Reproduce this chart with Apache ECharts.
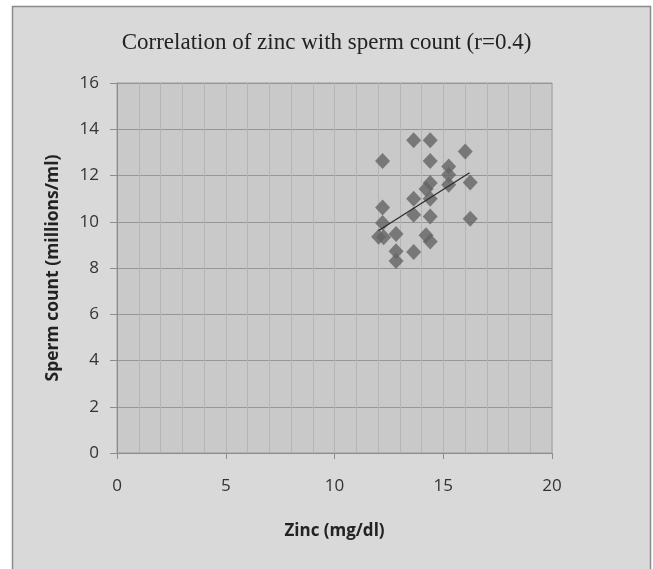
<!DOCTYPE html>
<html>
<head>
<meta charset="utf-8">
<script src="https://cdn.jsdelivr.net/npm/echarts@6/dist/echarts.min.js"></script>
<style>
  html, body { margin: 0; padding: 0; background: #fff; }
  #chart { width: 653px; height: 569px; }
</style>
</head>
<body>
<div id="chart"></div>
<script>
// values
const zinc = [13.64, 14.40, 12.21, 14.40, 16.01, 15.25, 15.25, 15.25, 16.24, 14.40,
  14.21, 14.40, 13.64, 13.64, 14.40, 16.24, 12.21, 12.21, 12.03, 12.26,
  12.83, 14.21, 14.40, 12.83, 12.83, 13.64];
const sperm = [13.52, 13.52, 12.63, 12.63, 13.04, 12.39, 12.03, 11.60, 11.70, 11.68,
  11.42, 11.00, 11.00, 10.30, 10.23, 10.13, 10.62, 9.95, 9.35, 9.33,
  9.47, 9.42, 9.15, 8.72, 8.30, 8.69];
// trend line ends (linear fit as drawn)
const trendX = [12.03, 16.21];
const trendY = [9.62, 12.12];

const points = zinc.map((x, i) => [x, sperm[i]]);
const trend = trendX.map((x, i) => [x, trendY[i]]);

const chart = echarts.init(document.getElementById("chart"));

chart.setOption({
  backgroundColor: "#ffffff",
  animation: false,
  graphic: [
    {
      type: "rect",
      z: -10,
      shape: { x: 12.5, y: 6.5, width: 638, height: 580 },
      style: { fill: "#d9d9d9", stroke: "#8a8a8a", lineWidth: 1.5 },
    },
  ],
  title: {
    text: "Correlation of zinc with sperm count (r=0.4)",
    left: "center",
    top: 26,
    textStyle: {
      fontFamily: "Liberation Serif",
      fontSize: 23,
      fontWeight: "normal",
      color: "#222",
    },
  },
  grid: {
    left: 117,
    right: 101,
    top: 83,
    bottom: 116,
    show: true,
    backgroundColor: "#c9c9c9",
    borderColor: "#9c9c9c",
    borderWidth: 1,
  },
  xAxis: {
    type: "value",
    min: 0,
    max: 20,
    interval: 5,
    name: "Zinc (mg/dl)",
    nameLocation: "middle",
    nameGap: 70,
    nameTextStyle: {
      fontFamily: "Open Sans",
      fontSize: 17,
      fontWeight: "bold",
      color: "#222",
    },
    axisLine: { lineStyle: { color: "#8c8c8c" } },
    axisTick: { show: true, length: 6, lineStyle: { color: "#8c8c8c" } },
    axisLabel: {
      margin: 25,
      fontFamily: "Open Sans",
      fontSize: 17,
      color: "#333",
    },
    splitLine: { show: true, lineStyle: { color: "#b5b5b5" } },
    minorTick: { show: false, splitNumber: 5 },
    minorSplitLine: { show: true, lineStyle: { color: "#b5b5b5" } },
  },
  yAxis: {
    type: "value",
    min: 0,
    max: 16,
    interval: 2,
    name: "Sperm count (millions/ml)",
    nameLocation: "middle",
    nameGap: 55,
    nameTextStyle: {
      fontFamily: "Open Sans",
      fontSize: 17.5,
      fontWeight: "bold",
      color: "#222",
    },
    axisLine: { show: true, lineStyle: { color: "#8c8c8c" } },
    axisTick: { show: true, length: 7, lineStyle: { color: "#8c8c8c" } },
    axisLabel: {
      margin: 18,
      fontFamily: "Open Sans",
      fontSize: 17,
      color: "#333",
    },
    splitLine: { show: true, lineStyle: { color: "#979797" } },
  },
  series: [
    {
      name: "Sperm count",
      type: "scatter",
      data: points,
      symbol: "diamond",
      symbolSize: [15, 16],
      itemStyle: { color: "#646464" },
      z: 2,
    },
    {
      name: "Trend",
      type: "line",
      data: trend,
      showSymbol: false,
      symbol: "none",
      lineStyle: { color: "#2a2a2a", width: 1.2 },
      z: 3,
    },
  ],
});
</script>
</body>
</html>
